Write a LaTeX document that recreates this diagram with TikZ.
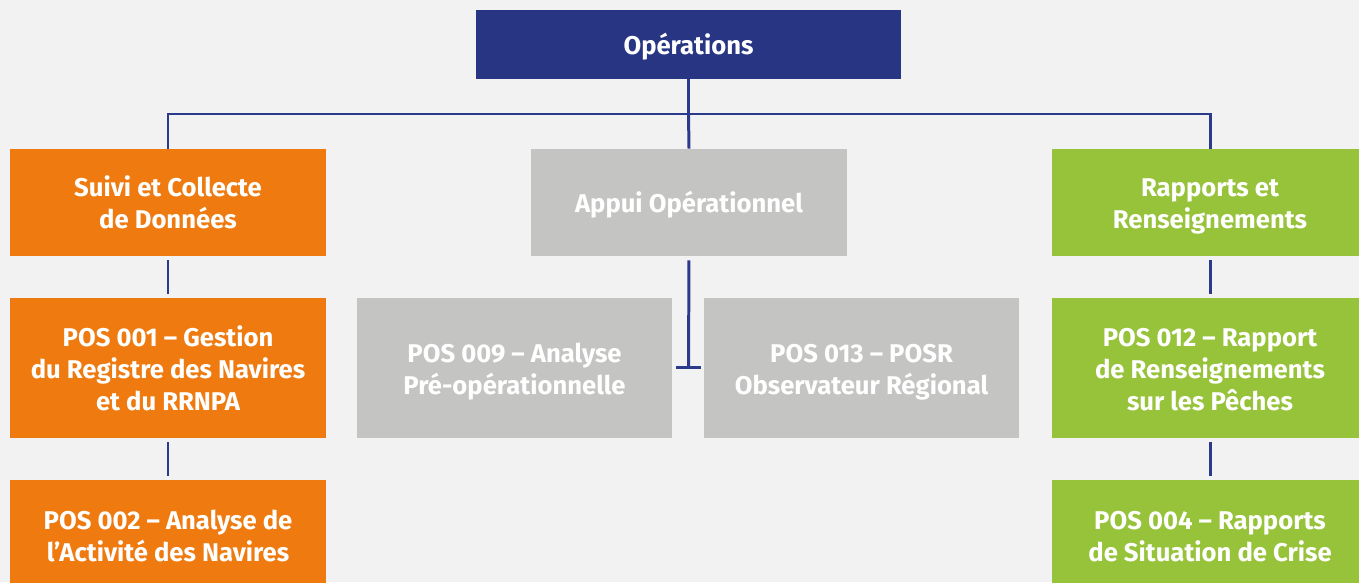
\documentclass[tikz,border=0pt]{standalone}
\usepackage{fontspec}
\setmainfont{Fira Sans}
\definecolor{bg}{HTML}{F2F2F2}
\definecolor{navy}{HTML}{283583}
\definecolor{lnav}{HTML}{2B3A8A}
\definecolor{orng}{HTML}{EF7B10}
\definecolor{gry}{HTML}{C4C4C2}
\definecolor{grn}{HTML}{97C33A}
\tikzset{
  box/.style={inner sep=0pt, minimum width=6.32cm},
  obox/.style={box, fill=orng},
  gbox/.style={box, fill=gry},
  vbox/.style={box, fill=grn},
  txt/.style={inner sep=0pt, align=center, text=white, font=\fontsize{14.6}{18.2}\selectfont\bfseries},
  link/.style={draw=lnav, line width=1.7pt},
}
\newcommand\boxtext[2]{\node[txt] (#1t) at ([yshift=-2.3pt]#1.center) {\strut #2\strut};}
\begin{document}
\begin{tikzpicture}[x=0.02cm, y=-0.02cm]
\path[use as bounding box, fill=bg] (0,0) rectangle (1359,582);
\begin{scope}
\clip (0,0) rectangle (1359,582);
\node[box, fill=navy, minimum width=8.5cm, minimum height=1.38cm] (top) at (688.5,44.5) {};
\node[obox, minimum height=2.14cm] (o1) at (168,202.5) {};
\node[obox, minimum height=2.8cm] (o2) at (168,368) {};
\node[obox, minimum height=2.2cm] (o3) at (168,535) {};
\node[gbox, minimum height=2.14cm] (m) at (689,202.5) {};
\node[gbox, minimum width=6.3cm, minimum height=2.8cm] (ml) at (514.5,368) {};
\node[gbox, minimum width=6.3cm, minimum height=2.8cm] (mr) at (861.5,368) {};
\node[vbox, minimum height=2.14cm] (v1) at (1210,202.5) {};
\node[vbox, minimum height=2.8cm] (v2) at (1210,368) {};
\node[vbox, minimum height=2.2cm] (v3) at (1210,535) {};
\boxtext{top}{Opérations}
\boxtext{o1}{Suivi et Collecte\\de Données}
\boxtext{o2}{POS 001 -- Gestion\\du Registre des Navires\\et du RRNPA}
\boxtext{o3}{POS 002 -- Analyse de\\l’Activité des Navires}
\boxtext{m}{Appui Opérationnel}
\boxtext{ml}{POS 009 -- Analyse\\Pré-opérationnelle}
\boxtext{mr}{POS 013 -- POSR\\Observateur Régional}
\boxtext{v1}{Rapports et\\Renseignements}
\boxtext{v2}{POS 012 -- Rapport\\de Renseignements\\sur les Pêches}
\boxtext{v3}{POS 004 -- Rapports\\de Situation de Crise}
\end{scope}
\coordinate (j) at (688.5,114);
\coordinate (t) at (688.5,367);
\coordinate (tl) at (676,367);
\coordinate (tr) at (701,367);
\draw[link] (top.south) -- (j);
\draw[link] (o1.north) |- (j) -| (v1.north);
\draw[link] (j) -- (m.north);
\draw[link, shorten <=2.3pt, shorten >=2.3pt] (o1.south) -- (o2.north);
\draw[link, shorten <=2.3pt, shorten >=2.3pt] (o2.south) -- (o3.north);
\draw[link, shorten <=2.3pt, shorten >=2.3pt] (v1.south) -- (v2.north);
\draw[link, shorten <=2.3pt, shorten >=2.3pt] (v2.south) -- (v3.north);
\draw[link, shorten <=2.3pt] (m.south) -- (t);
\draw[link] (tl) -- (tr);
\end{tikzpicture}
\end{document}
